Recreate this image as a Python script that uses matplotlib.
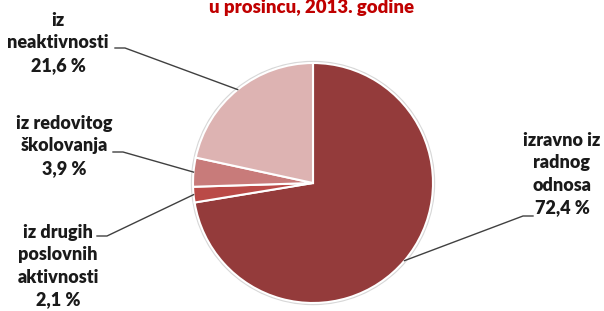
import numpy as np
import matplotlib.pyplot as plt

# Podaci
kategorije = ['izravno iz\nradnog\nodnosa', 'iz drugih\nposlovnih\naktivnosti',
              'iz redovitog\nškolovanja', 'iz\nneaktivnosti']
udjeli = [72.4, 2.1, 3.9, 21.6]
boje = ['#943B3B', '#BA4A47', '#C87B7A', '#DDB3B2']

W, H = 604, 311

def y_(y_img):
    # slike se mjere odozgo, os ide odozdo
    return H - y_img

fig = plt.figure(figsize=(W / 100, H / 100), dpi=100)
ax = fig.add_axes([0, 0, 1, 1])
ax.set_xlim(0, W)
ax.set_ylim(0, H)
ax.set_aspect('equal')
ax.axis('off')

# sjena oko pite
ax.add_patch(plt.Circle((313, y_(183)), 121.5, color='#d8d8d8', zorder=0))

wedges, _ = ax.pie(udjeli, colors=boje, startangle=90, counterclock=False,
                   radius=120, center=(313, y_(183)),
                   wedgeprops=dict(edgecolor='white', linewidth=1.5))
ax.set_xlim(0, W)
ax.set_ylim(0, H)

# pozicije natpisa (centar teksta, početak i kraj vodoravnog dijela linije)
natpis_xy = [(562, 174), (58, 266), (64, 146), (58, 43)]
linija_xy = [((533, 216), (523, 216)), ((97, 236), (107, 236)),
             ((113, 152), (123, 152)), ((115, 48), (125, 48))]

for w, naziv, p, (l0, l1), v in zip(wedges, kategorije, natpis_xy, linija_xy, udjeli):
    kut = np.radians((w.theta1 + w.theta2) / 2)
    cx, cy = w.center
    px, py = cx + w.r * np.cos(kut), cy + w.r * np.sin(kut)
    ax.plot([l0[0], l1[0], px], [y_(l0[1]), y_(l1[1]), py], color='#404040', lw=1.0, zorder=3)
    tekst = naziv + '\n' + f'{v:.1f} %'.replace('.', ',')
    ax.text(p[0], y_(p[1]), tekst, ha='center', va='center', fontsize=13,
            fontweight='heavy', family='Lato', color='#1a1a1a', linespacing=1.4)

ax.text(312, y_(8), 'u prosincu, 2013. godine', ha='center', va='center',
        fontsize=13.4, fontweight='heavy', family='Lato', color='#C00000')

fig.savefig('out.png', dpi=100)
